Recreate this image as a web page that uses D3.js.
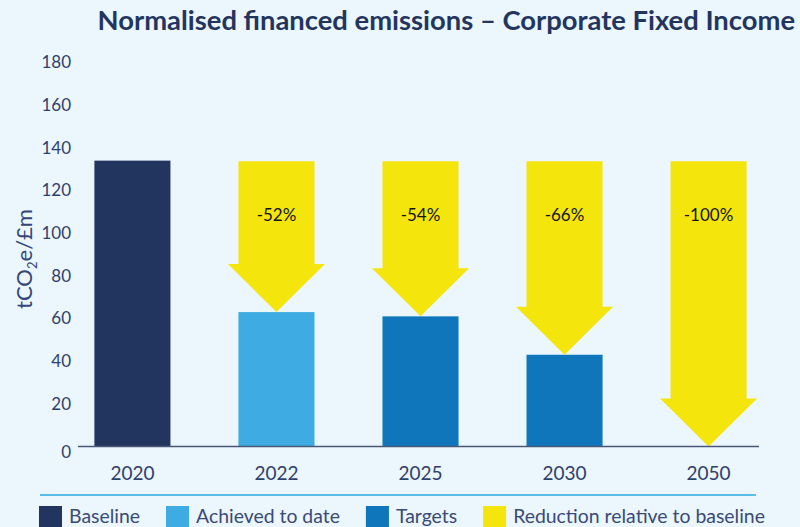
<!DOCTYPE html>
<html>
<head>
<meta charset="utf-8">
<script src="https://cdn.jsdelivr.net/npm/d3@7"></script>
<style>
  html, body { margin: 0; padding: 0; background: #ebf6fd; }
  svg { display: block; font-family: Lato, "Open Sans", sans-serif; }
</style>
</head>
<body>
<svg id="chart" width="800" height="527"></svg>
<script>
// ---- data ----
const categories = ["2020", "2022", "2025", "2030", "2050"];
const emissions = [134, 63, 61, 43, 0];
const barTypes = ["Baseline", "Achieved to date", "Targets", "Targets", null];
const reductions = [null, "-52%", "-54%", "-66%", "-100%"];
const yTicks = [0, 20, 40, 60, 80, 100, 120, 140, 160, 180];
const legendItems = ["Baseline", "Achieved to date", "Targets", "Reduction relative to baseline"];
const legendColors = ["#22355f", "#3eabe2", "#0f76bb", "#f4e50c"];
const titleText = "Normalised financed emissions \u2013 Corporate Fixed Income";

// ---- setup ----
const svg = d3.select("#chart");
const W = 800, H = 527;
svg.append("rect").attr("width", W).attr("height", H).attr("fill", "#ebf6fd");

const color = d3.scaleOrdinal().domain(legendItems).range(legendColors);
const x = d3.scaleBand().domain(categories).range([80, 761]).paddingInner(0.472).paddingOuter(0.1);
const y = d3.scaleLinear().domain([0, 180]).range([446.5, 62.5]);

const navy = "#23355f";
const textCol = "#2f3f6b";

// title
const title = svg.append("text")
  .attr("x", 795).attr("y", 30)
  .attr("text-anchor", "end")
  .attr("font-weight", 700)
  .attr("font-size", 24)
  .attr("fill", navy)
  .text(titleText);
{
  const w = title.node().getComputedTextLength();
  title.attr("font-size", 24 * 698 / w);
}

// y tick labels
svg.append("g").selectAll("text").data(yTicks).join("text")
  .attr("x", 71)
  .attr("y", d => y(d))
  .attr("dy", d => d === 0 ? "0.7em" : "0.35em")
  .attr("text-anchor", "end")
  .attr("font-size", 17)
  .attr("fill", textCol)
  .text(d => d);

// y axis title
const yt = svg.append("text")
  .attr("transform", "translate(32,259) rotate(-90)")
  .attr("text-anchor", "middle")
  .attr("font-size", 22)
  .attr("fill", "#34477a");
yt.append("tspan").text("tCO");
yt.append("tspan").attr("font-size", 13).attr("dy", 5).text("2");
yt.append("tspan").attr("dy", -5).text("e/\u00a3m");

// data table
const rows = categories.map((c, i) => ({
  cat: c, value: emissions[i], type: barTypes[i], red: reductions[i]
}));

// bars
svg.append("g").selectAll("rect").data(rows.filter(d => d.type && d.value > 0)).join("rect")
  .attr("x", d => x(d.cat))
  .attr("y", d => y(d.value))
  .attr("width", x.bandwidth())
  .attr("height", d => y(0) - y(d.value))
  .attr("fill", d => color(d.type));

// arrows
const baseline = emissions[0];
const headH = 48, over = 10.5;
svg.append("g").selectAll("path").data(rows.filter(d => d.red)).join("path")
  .attr("d", d => {
    const x0 = x(d.cat), x1 = x0 + x.bandwidth(), cx = x0 + x.bandwidth() / 2;
    const top = y(baseline) + 0.5, tip = y(d.value), hb = tip - headH;
    return `M${x0},${top}L${x1},${top}L${x1},${hb}L${x1 + over},${hb}L${cx},${tip}L${x0 - over},${hb}L${x0},${hb}Z`;
  })
  .attr("fill", color("Reduction relative to baseline"));

svg.append("g").selectAll("text").data(rows.filter(d => d.red)).join("text")
  .attr("x", d => x(d.cat) + x.bandwidth() / 2)
  .attr("y", 215)
  .attr("dy", "0.35em")
  .attr("text-anchor", "middle")
  .attr("font-size", 17)
  .attr("fill", "#151515")
  .text(d => d.red);

// x axis line
svg.append("line")
  .attr("x1", 78).attr("x2", 759)
  .attr("y1", y(0)).attr("y2", y(0))
  .attr("stroke", "#4a5878").attr("stroke-width", 1.5);

// x labels
svg.append("g").selectAll("text").data(categories).join("text")
  .attr("x", d => x(d) + x.bandwidth() / 2)
  .attr("y", 473)
  .attr("dy", "0.35em")
  .attr("text-anchor", "middle")
  .attr("font-size", 19)
  .attr("fill", textCol)
  .text(d => d);

// separator
svg.append("line")
  .attr("x1", 40).attr("x2", 756)
  .attr("y1", 495).attr("y2", 495)
  .attr("stroke", "#5bbde9").attr("stroke-width", 2);

// legend: fit font so the longest label spans like the reference
const lg = svg.append("g");
const probe = lg.append("text").attr("font-size", 18).text(legendItems[3]);
const legFs = 18 * 252 / probe.node().getComputedTextLength();
probe.remove();
let lx = 39;
legendItems.forEach((name, i) => {
  lg.append("rect").attr("x", lx).attr("y", 506).attr("width", 23).attr("height", 23).attr("fill", color(name));
  const t = lg.append("text")
    .attr("x", lx + 30).attr("y", 516)
    .attr("dy", "0.35em")
    .attr("font-size", legFs)
    .attr("fill", "#3a4a78")
    .text(name);
  const w = t.node().getComputedTextLength();
  lx = lx + 30 + w + 26;
});
</script>
</body>
</html>
